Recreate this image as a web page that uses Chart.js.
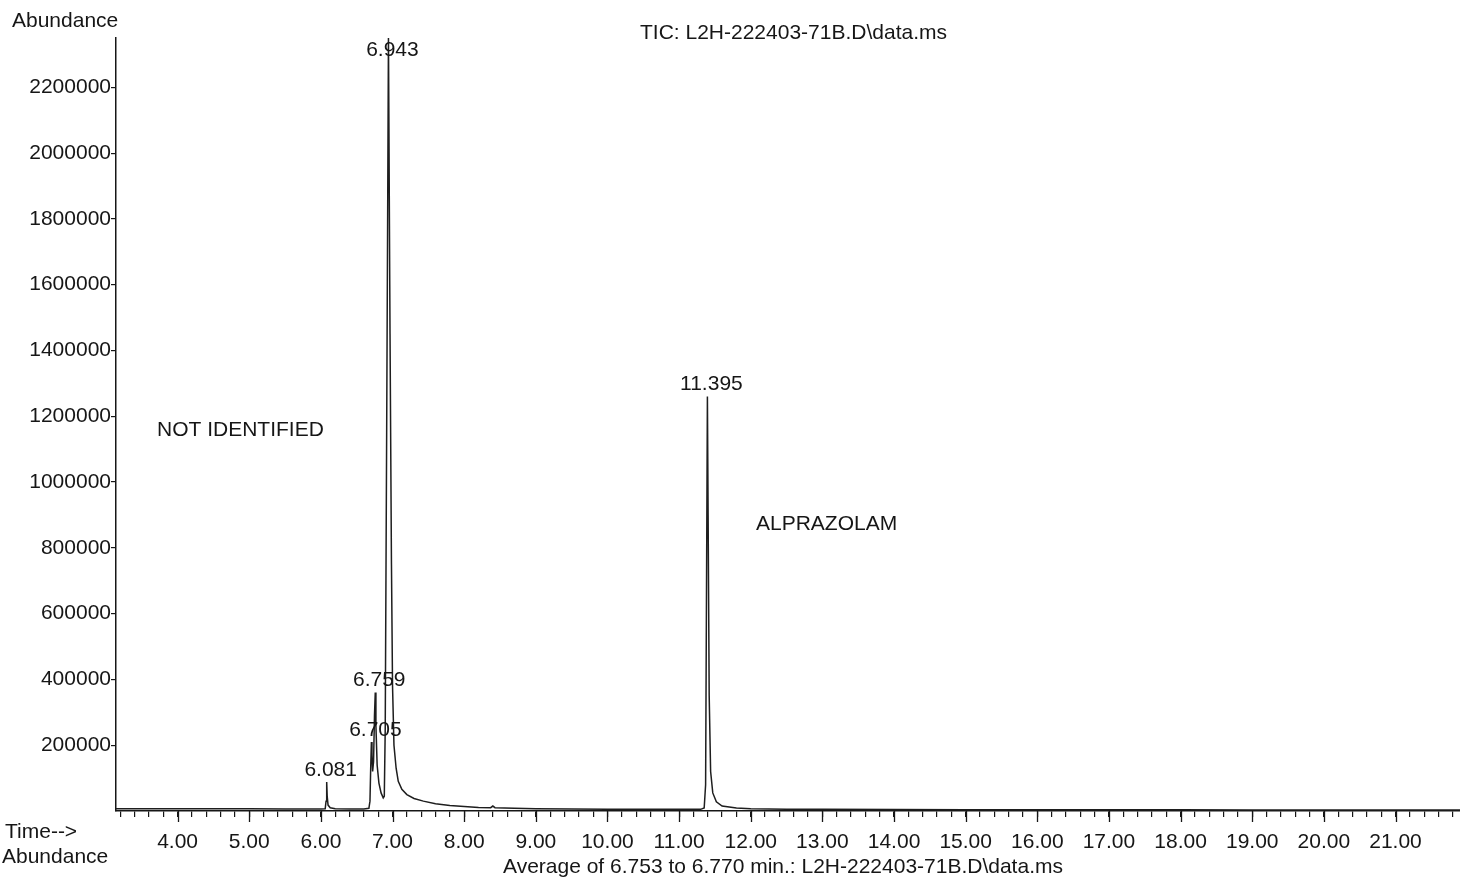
<!DOCTYPE html>
<html>
<head>
<meta charset="utf-8">
<title>TIC chromatogram</title>
<script src="https://cdn.jsdelivr.net/npm/chart.js@4.4.1/dist/chart.umd.min.js"></script>
<style>
  html, body { margin: 0; padding: 0; background: #fff; }
  #wrap { width: 1460px; height: 884px; }
</style>
</head>
<body>
<div id="wrap"><canvas id="tic" width="1460" height="884"></canvas></div>
<script>
// retention time (min) and abundance
const times = [
  3.14, 3.6, 4.0, 4.5, 5.0, 5.5, 6.0, 6.06, 6.072, 6.081, 6.088, 6.1, 6.13, 6.2, 6.4, 6.6,
  6.67, 6.685, 6.695, 6.705, 6.713, 6.722, 6.735, 6.748, 6.759, 6.768, 6.785, 6.81, 6.84, 6.87,
  6.885, 6.898, 6.918, 6.943, 6.965, 6.985, 7.0, 7.02, 7.05, 7.08, 7.13, 7.2, 7.3, 7.43, 7.6, 7.8,
  8.0, 8.2, 8.37, 8.4, 8.43, 8.7, 9.0, 9.5, 10.0, 10.5, 11.0, 11.3, 11.35, 11.37, 11.383, 11.395,
  11.405, 11.42, 11.44, 11.47, 11.52, 11.6, 11.8, 12.0, 12.5, 13.0, 14.0, 15.0, 16.0, 17.0, 18.0,
  19.0, 20.0, 21.0, 21.9
];
const abundance = [
  7000, 7000, 7000, 6500, 6500, 6000, 6000, 6500, 30000, 88000, 45000, 18000, 10000, 7000, 6000, 6000,
  8000, 30000, 130000, 210000, 170000, 120000, 150000, 290000, 360000, 260000, 140000, 85000, 55000, 40000,
  45000, 250000, 1150000, 2350000, 1450000, 750000, 380000, 200000, 130000, 90000, 66000, 50000, 38000, 30000, 22000, 17000,
  14000, 11000, 10000, 15000, 10000, 8000, 7000, 6000, 5500, 5000, 5000, 5000, 9000, 80000, 700000, 1260000,
  900000, 350000, 120000, 55000, 28000, 15000, 9000, 7000, 5500, 5000, 4500, 4000, 4000, 3500, 3500,
  3000, 3000, 3000, 3000
];
const peakTimes = [6.081, 6.705, 6.759, 6.943, 11.395];
const yTickValues = [200000, 400000, 600000, 800000, 1000000, 1200000, 1400000,
  1600000, 1800000, 2000000, 2200000];
const xTickLabels = ['4.00', '5.00', '6.00', '7.00', '8.00', '9.00', '10.00', '11.00', '12.00',
  '13.00', '14.00', '15.00', '16.00', '17.00', '18.00', '19.00', '20.00', '21.00'];

const ink = '#161616';
const font = '"Liberation Sans", Arial, sans-serif';

const textLayer = {
  id: 'textLayer',
  afterDraw(chart) {
    const { ctx, chartArea, scales: { x, y } } = chart;
    ctx.save();
    // longer marks on whole minutes
    ctx.strokeStyle = ink;
    ctx.lineWidth = 1.3;
    xTickLabels.forEach(lab => {
      const px = Math.round(x.getPixelForValue(parseFloat(lab))) + 0.5;
      ctx.beginPath();
      ctx.moveTo(px, chartArea.bottom);
      ctx.lineTo(px, chartArea.bottom + 11);
      ctx.stroke();
    });

    ctx.fillStyle = ink;
    ctx.font = '21px ' + font;
    ctx.textBaseline = 'middle';

    // retention time over each peak
    ctx.textAlign = 'center';
    peakTimes.forEach(t => {
      const v = abundance[times.indexOf(t)];
      const px = x.getPixelForValue(t) + 4;
      const py = Math.max(y.getPixelForValue(v) - 12, chartArea.top + 12);
      ctx.fillText(t.toFixed(3), px, py);
    });

    ctx.textAlign = 'left';
    ctx.fillText('Abundance', 12, 21);
    ctx.fillText('TIC: L2H-222403-71B.D\\data.ms', 640, 33);
    ctx.fillText('NOT IDENTIFIED', 157, 430);
    ctx.fillText('ALPRAZOLAM', 756, 524);
    ctx.fillText('Time-->', 5, 832);
    ctx.fillText('Abundance', 2, 857);
    ctx.fillText('Average of 6.753 to 6.770 min.: L2H-222403-71B.D\\data.ms', 503, 867);
    ctx.restore();
  }
};

new Chart(document.getElementById('tic'), {
  type: 'line',
  data: {
    datasets: [{
      data: times.map((t, i) => ({ x: t, y: abundance[i] })),
      borderColor: '#1e1e1e',
      borderWidth: 1.5,
      pointRadius: 0,
      tension: 0,
      fill: false
    }]
  },
  options: {
    responsive: false,
    animation: false,
    devicePixelRatio: 1,
    layout: { padding: { top: 38, right: 0, left: 0, bottom: 0 } },
    plugins: {
      legend: { display: false },
      tooltip: { enabled: false }
    },
    scales: {
      x: {
        type: 'linear',
        min: 3.14,
        max: 21.9,
        afterFit(scale) {
          scale.height = 73;
          scale.paddingLeft = 0;
          scale.paddingRight = 0;
        },
        afterBuildTicks(scale) {
          const ticks = [];
          for (let k = Math.ceil(scale.min * 5); k <= Math.floor(scale.max * 5); k++) {
            ticks.push({ value: k / 5 });
          }
          scale.ticks = ticks;
        },
        border: { display: true, color: ink, width: 1.5 },
        grid: { display: true, drawOnChartArea: false, tickLength: 6, color: ink, lineWidth: 1.2 },
        ticks: {
          autoSkip: false,
          maxRotation: 0,
          padding: 13,
          color: ink,
          font: { family: font, size: 21 },
          callback(v) {
            const lab = Number(v).toFixed(2);
            return xTickLabels.includes(lab) && Math.abs(v - Math.round(v)) < 1e-6 ? lab : '';
          }
        }
      },
      y: {
        type: 'linear',
        min: 0,
        max: 2350000,
        afterFit(scale) { scale.width = 116; },
        afterBuildTicks(scale) {
          scale.ticks = yTickValues.map(v => ({ value: v }));
        },
        border: { display: true, color: ink, width: 1.5 },
        grid: { display: true, drawOnChartArea: false, tickLength: 5, color: ink, lineWidth: 1.2 },
        ticks: {
          padding: 0,
          color: ink,
          font: { family: font, size: 21 },
          callback: v => String(v)
        }
      }
    }
  },
  plugins: [textLayer]
});
</script>
</body>
</html>
